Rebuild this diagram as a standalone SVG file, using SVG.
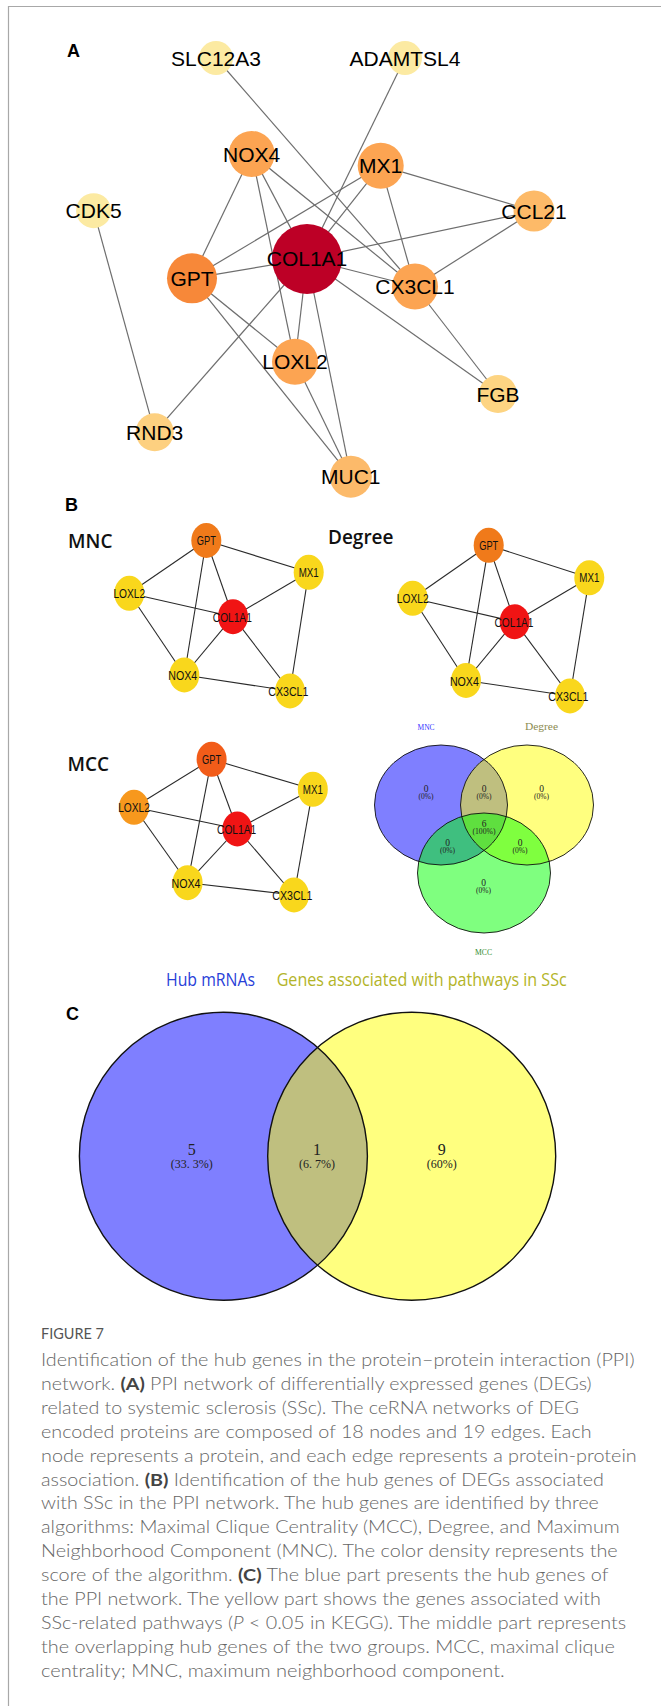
<svg xmlns="http://www.w3.org/2000/svg" width="661" height="1706" viewBox="0 0 661 1706">
<style>
.edgeA{stroke:#6e6e6e;stroke-width:1.2;fill:none}
.edgeB{stroke:#2a2a2a;stroke-width:1.1;fill:none}
.ta{font-family:"Liberation Sans",Arial,sans-serif;font-size:21px;fill:#000;text-anchor:middle}
.tb{font-family:"Liberation Sans",Arial,sans-serif;font-size:12.5px;fill:#111;text-anchor:middle}
.panel{font-family:"Liberation Sans",Arial,sans-serif;font-weight:bold;font-size:18px;fill:#000}
.alg{font-family:"Open Sans","Noto Sans",sans-serif;font-weight:600;font-size:19px;fill:#111}
.vs{font-family:"Liberation Serif","Times New Roman",serif;fill:#222;text-anchor:middle}
.cap{font-family:Lato,"Open Sans",sans-serif;font-weight:300;font-size:17px;fill:#666}
.capb{font-weight:700;fill:#444}
.yel{fill:#F9D71C}
.red{fill:#F01414}
</style>
<rect width="661" height="1706" fill="#fff"/>
<path d="M8.5 1706 V6.5 H661" fill="none" stroke="#a8a8a8" stroke-width="1.2"/>

<!-- Panel A -->
<text class="panel" x="67" y="57">A</text>
<g id="edges-A">
<line class="edgeA" x1="216" y1="58" x2="415" y2="286.5"/>
<line class="edgeA" x1="405" y1="58" x2="307" y2="259"/>
<line class="edgeA" x1="251.7" y1="154" x2="192" y2="278.3"/>
<line class="edgeA" x1="251.7" y1="154" x2="295" y2="361.7"/>
<line class="edgeA" x1="251.7" y1="154" x2="307" y2="259"/>
<line class="edgeA" x1="251.7" y1="154" x2="415" y2="286.5"/>
<line class="edgeA" x1="380.7" y1="165.7" x2="192" y2="278.3"/>
<line class="edgeA" x1="380.7" y1="165.7" x2="307" y2="259"/>
<line class="edgeA" x1="380.7" y1="165.7" x2="534" y2="211"/>
<line class="edgeA" x1="380.7" y1="165.7" x2="415" y2="286.5"/>
<line class="edgeA" x1="534" y1="211" x2="307" y2="259"/>
<line class="edgeA" x1="534" y1="211" x2="415" y2="286.5"/>
<line class="edgeA" x1="93.6" y1="210.7" x2="154.7" y2="432.3"/>
<line class="edgeA" x1="192" y1="278.3" x2="307" y2="259"/>
<line class="edgeA" x1="192" y1="278.3" x2="295" y2="361.7"/>
<line class="edgeA" x1="192" y1="278.3" x2="350.8" y2="476.7"/>
<line class="edgeA" x1="307" y1="259" x2="415" y2="286.5"/>
<line class="edgeA" x1="307" y1="259" x2="498" y2="394"/>
<line class="edgeA" x1="307" y1="259" x2="295" y2="361.7"/>
<line class="edgeA" x1="307" y1="259" x2="350.8" y2="476.7"/>
<line class="edgeA" x1="307" y1="259" x2="154.7" y2="432.3"/>
<line class="edgeA" x1="415" y1="286.5" x2="498" y2="394"/>
<line class="edgeA" x1="295" y1="361.7" x2="350.8" y2="476.7"/>
</g>
<g id="A-SLC12A3"><circle cx="216" cy="58" r="17" fill="#FCEAA2"/><text class="ta" x="216" y="65.5">SLC12A3</text></g>
<g id="A-ADAMTSL4"><circle cx="405" cy="58" r="17" fill="#FCEAA2"/><text class="ta" x="405" y="65.5">ADAMTSL4</text></g>
<g id="A-CDK5"><circle cx="93.6" cy="210.7" r="17.5" fill="#FCEAA2"/><text class="ta" x="93.6" y="218.2">CDK5</text></g>
<g id="A-NOX4"><circle cx="251.7" cy="154" r="23" fill="#FCA452"/><text class="ta" x="251.7" y="161.5">NOX4</text></g>
<g id="A-MX1"><circle cx="380.7" cy="165.7" r="23" fill="#FCA452"/><text class="ta" x="380.7" y="173.2">MX1</text></g>
<g id="A-CCL21"><circle cx="534" cy="211" r="20.5" fill="#FDBA68"/><text class="ta" x="534" y="218.5">CCL21</text></g>
<g id="A-COL1A1"><circle cx="307" cy="259" r="35" fill="#BD0026"/><text class="ta" x="307" y="266">COL1A1</text></g>
<g id="A-GPT"><circle cx="192" cy="278.3" r="25" fill="#F78839"/><text class="ta" x="192" y="285.8">GPT</text></g>
<g id="A-CX3CL1"><circle cx="415" cy="286.5" r="23" fill="#FCA452"/><text class="ta" x="415" y="294">CX3CL1</text></g>
<g id="A-LOXL2"><circle cx="295" cy="361.7" r="23" fill="#FCA452"/><text class="ta" x="295" y="369.2">LOXL2</text></g>
<g id="A-FGB"><circle cx="498" cy="394" r="19" fill="#FDD482"/><text class="ta" x="498" y="401.5">FGB</text></g>
<g id="A-RND3"><circle cx="154.7" cy="432.3" r="19" fill="#FDD080"/><text class="ta" x="154.7" y="439.8">RND3</text></g>
<g id="A-MUC1"><circle cx="350.8" cy="476.7" r="21" fill="#FCBA6A"/><text class="ta" x="350.8" y="484.2">MUC1</text></g>

<!-- Panel B -->
<text class="panel" x="65" y="511">B</text>
<text class="alg" x="68" y="548">MNC</text>
<text class="alg" x="328" y="544">Degree</text>
<text class="alg" x="67.5" y="770.5">MCC</text>

<!-- MNC network -->
<g id="edges-MNC">
<line class="edgeB" x1="206.3" y1="540.5" x2="129.3" y2="593.3"/>
<line class="edgeB" x1="206.3" y1="540.5" x2="308.7" y2="572.3"/>
<line class="edgeB" x1="206.3" y1="540.5" x2="184.3" y2="675"/>
<line class="edgeB" x1="206.3" y1="540.5" x2="233" y2="616.7"/>
<line class="edgeB" x1="129.3" y1="593.3" x2="233" y2="616.7"/>
<line class="edgeB" x1="129.3" y1="593.3" x2="184.3" y2="675"/>
<line class="edgeB" x1="308.7" y1="572.3" x2="233" y2="616.7"/>
<line class="edgeB" x1="308.7" y1="572.3" x2="290" y2="691"/>
<line class="edgeB" x1="233" y1="616.7" x2="184.3" y2="675"/>
<line class="edgeB" x1="233" y1="616.7" x2="290" y2="691"/>
<line class="edgeB" x1="184.3" y1="675" x2="290" y2="691"/>
</g>
<g id="MNC-GPT"><ellipse cx="206.3" cy="540.5" rx="15" ry="17.5" fill="#F07A1A"/><text class="tb" x="206.3" y="545" textLength="19" lengthAdjust="spacingAndGlyphs">GPT</text></g>
<g id="MNC-MX1"><ellipse class="yel" cx="308.7" cy="572.3" rx="15" ry="17.5"/><text class="tb" x="308.7" y="576.8" textLength="20" lengthAdjust="spacingAndGlyphs">MX1</text></g>
<g id="MNC-LOXL2"><ellipse class="yel" cx="129.3" cy="593.3" rx="15" ry="17.5"/><text class="tb" x="129.3" y="597.8" textLength="31.7" lengthAdjust="spacingAndGlyphs">LOXL2</text></g>
<g id="MNC-COL1A1"><ellipse class="red" cx="233" cy="616.7" rx="15" ry="17.5"/><text class="tb" x="232.3" y="621.5" textLength="39" lengthAdjust="spacingAndGlyphs">COL1A1</text></g>
<g id="MNC-NOX4"><ellipse class="yel" cx="184.3" cy="675" rx="15" ry="17.5"/><text class="tb" x="182.7" y="680" textLength="29" lengthAdjust="spacingAndGlyphs">NOX4</text></g>
<g id="MNC-CX3CL1"><ellipse class="yel" cx="290" cy="691" rx="15" ry="17.5"/><text class="tb" x="288.3" y="696" textLength="40" lengthAdjust="spacingAndGlyphs">CX3CL1</text></g>

<!-- Degree network -->
<g id="edges-Degree">
<line class="edgeB" x1="488.7" y1="545.3" x2="412.7" y2="598.3"/>
<line class="edgeB" x1="488.7" y1="545.3" x2="589.3" y2="577.8"/>
<line class="edgeB" x1="488.7" y1="545.3" x2="466" y2="680.5"/>
<line class="edgeB" x1="488.7" y1="545.3" x2="514.7" y2="621.7"/>
<line class="edgeB" x1="412.7" y1="598.3" x2="514.7" y2="621.7"/>
<line class="edgeB" x1="412.7" y1="598.3" x2="466" y2="680.5"/>
<line class="edgeB" x1="589.3" y1="577.8" x2="514.7" y2="621.7"/>
<line class="edgeB" x1="589.3" y1="577.8" x2="570" y2="696"/>
<line class="edgeB" x1="514.7" y1="621.7" x2="466" y2="680.5"/>
<line class="edgeB" x1="514.7" y1="621.7" x2="570" y2="696"/>
<line class="edgeB" x1="466" y1="680.5" x2="570" y2="696"/>
</g>
<g id="Degree-GPT"><ellipse cx="488.7" cy="545.3" rx="15" ry="17.5" fill="#F07A1A"/><text class="tb" x="488.7" y="549.8" textLength="19" lengthAdjust="spacingAndGlyphs">GPT</text></g>
<g id="Degree-MX1"><ellipse class="yel" cx="589.3" cy="577.8" rx="15" ry="17.5"/><text class="tb" x="589.3" y="582.3" textLength="20" lengthAdjust="spacingAndGlyphs">MX1</text></g>
<g id="Degree-LOXL2"><ellipse class="yel" cx="412.7" cy="598.3" rx="15" ry="17.5"/><text class="tb" x="412.7" y="602.8" textLength="31.7" lengthAdjust="spacingAndGlyphs">LOXL2</text></g>
<g id="Degree-COL1A1"><ellipse class="red" cx="514.7" cy="621.7" rx="15" ry="17.5"/><text class="tb" x="514" y="626.5" textLength="39" lengthAdjust="spacingAndGlyphs">COL1A1</text></g>
<g id="Degree-NOX4"><ellipse class="yel" cx="466" cy="680.5" rx="15" ry="17.5"/><text class="tb" x="464.4" y="685.5" textLength="29" lengthAdjust="spacingAndGlyphs">NOX4</text></g>
<g id="Degree-CX3CL1"><ellipse class="yel" cx="570" cy="696" rx="15" ry="17.5"/><text class="tb" x="568.3" y="701" textLength="40" lengthAdjust="spacingAndGlyphs">CX3CL1</text></g>

<!-- MCC network -->
<g id="edges-MCC">
<line class="edgeB" x1="211.6" y1="759.3" x2="134" y2="807.3"/>
<line class="edgeB" x1="211.6" y1="759.3" x2="312.8" y2="789.3"/>
<line class="edgeB" x1="211.6" y1="759.3" x2="187.6" y2="882.7"/>
<line class="edgeB" x1="211.6" y1="759.3" x2="237.3" y2="829"/>
<line class="edgeB" x1="134" y1="807.3" x2="237.3" y2="829"/>
<line class="edgeB" x1="134" y1="807.3" x2="187.6" y2="882.7"/>
<line class="edgeB" x1="312.8" y1="789.3" x2="237.3" y2="829"/>
<line class="edgeB" x1="312.8" y1="789.3" x2="294" y2="895"/>
<line class="edgeB" x1="237.3" y1="829" x2="187.6" y2="882.7"/>
<line class="edgeB" x1="237.3" y1="829" x2="294" y2="895"/>
<line class="edgeB" x1="187.6" y1="882.7" x2="294" y2="895"/>
</g>
<g id="MCC-GPT"><ellipse cx="211.6" cy="759.3" rx="15" ry="17.5" fill="#F25C19"/><text class="tb" x="211.6" y="763.8" textLength="19" lengthAdjust="spacingAndGlyphs">GPT</text></g>
<g id="MCC-MX1"><ellipse class="yel" cx="312.8" cy="789.3" rx="15" ry="17.5"/><text class="tb" x="312.8" y="793.8" textLength="20" lengthAdjust="spacingAndGlyphs">MX1</text></g>
<g id="MCC-LOXL2"><ellipse cx="134" cy="807.3" rx="15" ry="17.5" fill="#F7981D"/><text class="tb" x="134" y="811.8" textLength="31.7" lengthAdjust="spacingAndGlyphs">LOXL2</text></g>
<g id="MCC-COL1A1"><ellipse class="red" cx="237.3" cy="829" rx="15" ry="17.5"/><text class="tb" x="236.6" y="833.8" textLength="39" lengthAdjust="spacingAndGlyphs">COL1A1</text></g>
<g id="MCC-NOX4"><ellipse class="yel" cx="187.6" cy="882.7" rx="15" ry="17.5"/><text class="tb" x="186" y="887.7" textLength="29" lengthAdjust="spacingAndGlyphs">NOX4</text></g>
<g id="MCC-CX3CL1"><ellipse class="yel" cx="294" cy="895" rx="15" ry="17.5"/><text class="tb" x="292.3" y="900" textLength="40" lengthAdjust="spacingAndGlyphs">CX3CL1</text></g>

<!-- Venn B -->
<g id="venn-B">
<ellipse cx="441" cy="805" rx="66.5" ry="60" fill="#0000FF" fill-opacity="0.5"/>
<ellipse cx="527" cy="805" rx="66.5" ry="60" fill="#FFFF00" fill-opacity="0.5"/>
<ellipse cx="484" cy="873" rx="66.5" ry="60" fill="#00FF00" fill-opacity="0.5"/>
<ellipse cx="441" cy="805" rx="66.5" ry="60" fill="none" stroke="#111" stroke-width="0.9"/>
<ellipse cx="527" cy="805" rx="66.5" ry="60" fill="none" stroke="#111" stroke-width="0.9"/>
<ellipse cx="484" cy="873" rx="66.5" ry="60" fill="none" stroke="#111" stroke-width="0.9"/>
<text class="vs" x="426" y="729.5" font-size="9" style="fill:#3333FF" textLength="17" lengthAdjust="spacingAndGlyphs">MNC</text>
<text class="vs" x="541.5" y="729.5" font-size="9.5" style="fill:#8B8B50" textLength="33" lengthAdjust="spacingAndGlyphs">Degree</text>
<text class="vs" x="483.5" y="955" font-size="9" style="fill:#2E8B2E" textLength="17" lengthAdjust="spacingAndGlyphs">MCC</text>
<text class="vs" x="426" y="792" font-size="9.5">0</text>
<text class="vs" x="426" y="799" font-size="7.5">(0%)</text>
<text class="vs" x="484" y="792" font-size="9.5">0</text>
<text class="vs" x="484" y="799" font-size="7.5">(0%)</text>
<text class="vs" x="541.5" y="792" font-size="9.5">0</text>
<text class="vs" x="541.5" y="799" font-size="7.5">(0%)</text>
<text class="vs" x="484" y="827" font-size="9.5">6</text>
<text class="vs" x="484" y="834" font-size="7.7">(100%)</text>
<text class="vs" x="447.5" y="845.5" font-size="9.5">0</text>
<text class="vs" x="447.5" y="852.5" font-size="7.5">(0%)</text>
<text class="vs" x="520" y="845.5" font-size="9.5">0</text>
<text class="vs" x="520" y="852.5" font-size="7.5">(0%)</text>
<text class="vs" x="483.5" y="886" font-size="9.5">0</text>
<text class="vs" x="483.5" y="893" font-size="7.5">(0%)</text>
</g>

<!-- Legend -->
<text x="166" y="986" font-family="'Open Sans','Noto Sans',sans-serif" font-size="18" font-weight="500" fill="#2840D8" textLength="89" lengthAdjust="spacingAndGlyphs">Hub mRNAs</text>
<text x="276.7" y="986" font-family="'Open Sans','Noto Sans',sans-serif" font-size="18" font-weight="500" fill="#B3B428" textLength="290" lengthAdjust="spacingAndGlyphs">Genes associated with pathways in SSc</text>

<!-- Panel C -->
<text class="panel" x="66" y="1020">C</text>
<g id="venn-C">
<circle cx="223.4" cy="1156.3" r="144" fill="#0000FF" fill-opacity="0.5"/>
<circle cx="411.7" cy="1156.3" r="144" fill="#FFFF00" fill-opacity="0.5"/>
<circle cx="223.4" cy="1156.3" r="144" fill="none" stroke="#111" stroke-width="1.4"/>
<circle cx="411.7" cy="1156.3" r="144" fill="none" stroke="#111" stroke-width="1.4"/>
<text class="vs" x="191.8" y="1155" font-size="16">5</text>
<text class="vs" x="191.8" y="1168" font-size="12">(33. 3%)</text>
<text class="vs" x="317" y="1155" font-size="16">1</text>
<text class="vs" x="317" y="1168" font-size="12">(6. 7%)</text>
<text class="vs" x="441.8" y="1155" font-size="16">9</text>
<text class="vs" x="441.8" y="1168" font-size="12">(60%)</text>
</g>

<!-- Caption -->
<text x="41" y="1339.3" font-family="Lato,'Open Sans',sans-serif" font-size="15" fill="#555" textLength="63" lengthAdjust="spacingAndGlyphs">FIGURE 7</text>
<g class="cap">
<text x="41" y="1366" textLength="593.6" lengthAdjust="spacingAndGlyphs">Identification of the hub genes in the protein–protein interaction (PPI)</text>
<text x="41" y="1390" textLength="550.6" lengthAdjust="spacingAndGlyphs">network. <tspan class="capb">(A)</tspan> PPI network of differentially expressed genes (DEGs)</text>
<text x="41" y="1413.5" textLength="537.9" lengthAdjust="spacingAndGlyphs">related to systemic sclerosis (SSc). The ceRNA networks of DEG</text>
<text x="41" y="1437.5" textLength="550.6" lengthAdjust="spacingAndGlyphs">encoded proteins are composed of 18 nodes and 19 edges. Each</text>
<text x="41" y="1461.5" textLength="595.7" lengthAdjust="spacingAndGlyphs">node represents a protein, and each edge represents a protein-protein</text>
<text x="41" y="1485.5" textLength="562.8" lengthAdjust="spacingAndGlyphs">association. <tspan class="capb">(B)</tspan> Identification of the hub genes of DEGs associated</text>
<text x="41" y="1509" textLength="557.8" lengthAdjust="spacingAndGlyphs">with SSc in the PPI network. The hub genes are identified by three</text>
<text x="41" y="1533" textLength="578.8" lengthAdjust="spacingAndGlyphs">algorithms: Maximal Clique Centrality (MCC), Degree, and Maximum</text>
<text x="41" y="1557" textLength="576.7" lengthAdjust="spacingAndGlyphs">Neighborhood Component (MNC). The color density represents the</text>
<text x="41" y="1581" textLength="567.4" lengthAdjust="spacingAndGlyphs">score of the algorithm. <tspan class="capb">(C)</tspan> The blue part presents the hub genes of</text>
<text x="41" y="1605" textLength="559.9" lengthAdjust="spacingAndGlyphs">the PPI network. The yellow part shows the genes associated with</text>
<text x="41" y="1629" textLength="585.1" lengthAdjust="spacingAndGlyphs">SSc-related pathways (<tspan font-style="italic">P</tspan> &lt; 0.05 in KEGG). The middle part represents</text>
<text x="41" y="1653" textLength="573.8" lengthAdjust="spacingAndGlyphs">the overlapping hub genes of the two groups. MCC, maximal clique</text>
<text x="41" y="1677" textLength="463.7" lengthAdjust="spacingAndGlyphs">centrality; MNC, maximum neighborhood component.</text>
</g>
</svg>
